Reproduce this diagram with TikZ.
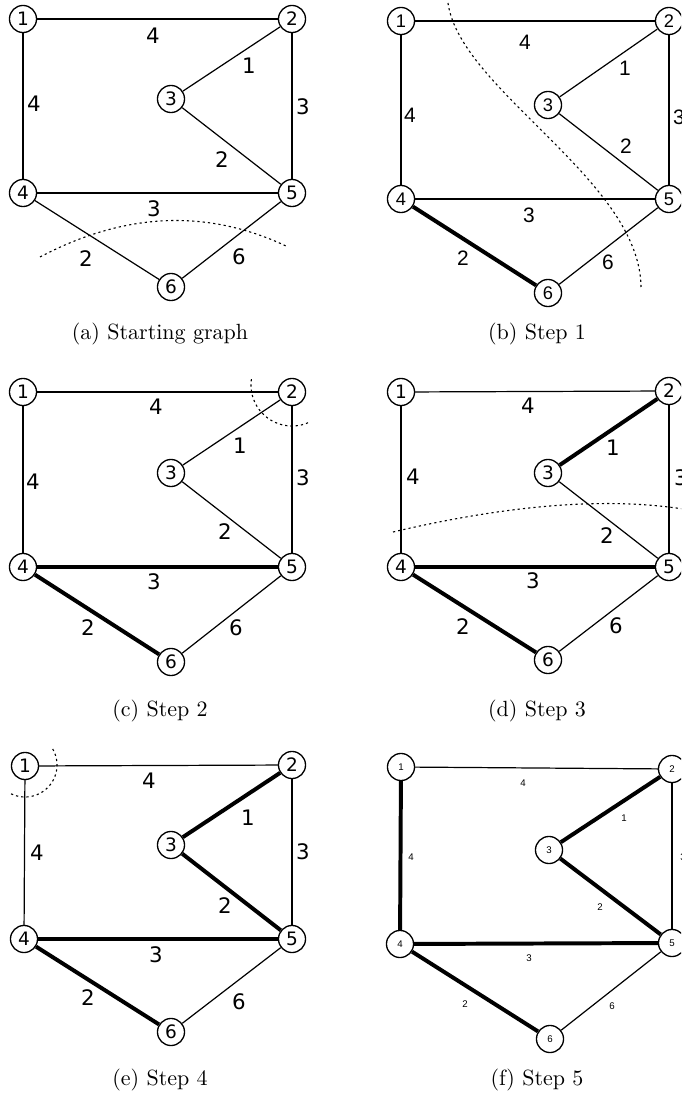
\documentclass[tikz,border=0pt]{standalone}
\usepackage{fontspec}
\newfontfamily\dvs{DejaVu Sans}
\newfontfamily\lib{Liberation Sans}
\tikzset{
  vtx/.style={circle, draw, line width=0.6pt, minimum size=12.3pt, inner sep=0pt, fill=white, font=\dvs\fontsize{8.4}{10}\selectfont},
  vtxb/.style={vtx, font=\lib\fontsize{8.3}{10}\selectfont},
  vtxf/.style={vtx, font=\lib\fontsize{4.4}{5}\selectfont},
  edge/.style={line width=0.55pt},
  tree/.style={line width=1.8pt},
  lbl/.style={inner sep=0pt, font=\dvs\fontsize{9.7}{11}\selectfont},
  lblb/.style={inner sep=0pt, font=\lib\fontsize{9.5}{11}\selectfont},
  lblf/.style={inner sep=0pt, font=\lib\fontsize{4.4}{5}\selectfont},
  cut/.style={dash pattern=on 1pt off 1.4pt, line width=0.5pt},
  captxt/.style={anchor=base, inner sep=0pt, font=\rmfamily\fontsize{10}{12}\selectfont}
}
\begin{document}
\begin{tikzpicture}[x=0.4545pt, y=-0.4545pt]
\useasboundingbox (0,0) rectangle (681,1094);
\clip (0,0) rectangle (681,1094);

% ---------- (a) ----------
\node[vtx] (a1) at (23,19) {1};
\node[vtx] (a2) at (292,19) {2};
\node[vtx] (a3) at (171,99) {3};
\node[vtx] (a4) at (23,193) {4};
\node[vtx] (a5) at (292,193) {5};
\node[vtx] (a6) at (171,287) {6};
\draw[edge] (a1) -- (a2);
\draw[edge] (a1) -- (a4);
\draw[edge] (a2) -- (a3);
\draw[edge] (a2) -- (a5);
\draw[edge] (a3) -- (a5);
\draw[edge] (a4) -- (a5);
\draw[edge] (a4) -- (a6);
\draw[edge] (a5) -- (a6);
\node[lbl] (la12) at (153,36) {4};
\node[lbl] (la14) at (34,104) {4};
\node[lbl] (la23) at (249,66) {1};
\node[lbl] (la25) at (303,107) {3};
\node[lbl] (la35) at (222,160) {2};
\node[lbl] (la45) at (154,209) {3};
\node[lbl] (la46) at (86,259) {2};
\node[lbl] (la56) at (239,257) {6};
\draw[cut] (40,257) .. controls (124.7,212.3) and (206.7,208.7) .. (286,246);
\node[captxt] (capa) at (160,340) {(a) Starting graph};

% ---------- (b) ----------
\node[vtxb] (b1) at (401,21) {1};
\node[vtxb] (b2) at (669,21) {2};
\node[vtxb] (b3) at (548,105) {3};
\node[vtxb] (b4) at (401,199) {4};
\node[vtxb] (b5) at (669,199) {5};
\node[vtxb] (b6) at (548,293) {6};
\draw[edge] (b1) -- (b2);
\draw[edge] (b1) -- (b4);
\draw[edge] (b2) -- (b3);
\draw[edge] (b2) -- (b5);
\draw[edge] (b3) -- (b5);
\draw[edge] (b4) -- (b5);
\draw[tree] (b4) -- (b6);
\draw[edge] (b5) -- (b6);
\node[lblb] (lb12) at (525,42) {4};
\node[lblb] (lb14) at (410,115) {4};
\node[lblb] (lb23) at (625,68) {1};
\node[lblb] (lb25) at (679,117) {3};
\node[lblb] (lb35) at (626,146) {2};
\node[lblb] (lb45) at (529,215) {3};
\node[lblb] (lb46) at (463,258) {2};
\node[lblb] (lb56) at (608,262) {6};
\draw[cut] (448,3) .. controls (460,90) and (640,180) .. (641,287);
\node[captxt] (capb) at (537,340) {(b) Step 1};

% ---------- (c) ----------
\node[vtx] (c1) at (23,392) {1};
\node[vtx] (c2) at (292,392) {2};
\node[vtx] (c3) at (171,473) {3};
\node[vtx] (c4) at (23,567) {4};
\node[vtx] (c5) at (292,567) {5};
\node[vtx] (c6) at (171,662) {6};
\draw[edge] (c1) -- (c2);
\draw[edge] (c1) -- (c4);
\draw[edge] (c2) -- (c3);
\draw[edge] (c2) -- (c5);
\draw[edge] (c3) -- (c5);
\draw[tree] (c4) -- (c5);
\draw[tree] (c4) -- (c6);
\draw[edge] (c5) -- (c6);
\node[lbl] (lc12) at (156,407) {4};
\node[lbl] (lc14) at (33,482) {4};
\node[lbl] (lc23) at (240,446) {1};
\node[lbl] (lc25) at (303,478) {3};
\node[lbl] (lc35) at (225,532) {2};
\node[lbl] (lc45) at (154,582) {3};
\node[lbl] (lc46) at (88,628) {2};
\node[lbl] (lc56) at (236,628) {6};
\draw[cut] plot[domain=67:191, samples=60, smooth] ({292+41*cos(\x)},{385+41*sin(\x)});
\node[captxt] (capc) at (160,716) {(c) Step 2};

% ---------- (d) ----------
\node[vtx] (d1) at (401,392) {1};
\node[vtx] (d2) at (669,391) {2};
\node[vtx] (d3) at (548,473) {3};
\node[vtx] (d4) at (401,567) {4};
\node[vtx] (d5) at (669,567) {5};
\node[vtx] (d6) at (548,660) {6};
\draw[edge] (d1) -- (d2);
\draw[edge] (d1) -- (d4);
\draw[tree] (d2) -- (d3);
\draw[edge] (d2) -- (d5);
\draw[edge] (d3) -- (d5);
\draw[tree] (d4) -- (d5);
\draw[tree] (d4) -- (d6);
\draw[edge] (d5) -- (d6);
\node[lbl] (ld12) at (528,406) {4};
\node[lbl] (ld14) at (413,477) {4};
\node[lbl] (ld23) at (613,448) {1};
\node[lbl] (ld25) at (681,478) {3};
\node[lbl] (ld35) at (607,536) {2};
\node[lbl] (ld45) at (533,581) {3};
\node[lbl] (ld46) at (463,627) {2};
\node[lbl] (ld56) at (616,626) {6};
\draw[cut] (393,532) .. controls (517.7,502.7) and (620,496) .. (700,512);
\node[captxt] (capd) at (537,716) {(d) Step 3};

% ---------- (e) ----------
\node[vtx] (e1) at (25,766) {1};
\node[vtx] (e2) at (292,765) {2};
\node[vtx] (e3) at (171,845) {3};
\node[vtx] (e4) at (24,939) {4};
\node[vtx] (e5) at (292,939) {5};
\node[vtx] (e6) at (171,1032) {6};
\draw[edge] (e1) -- (e2);
\draw[edge] (e1) -- (e4);
\draw[tree] (e2) -- (e3);
\draw[edge] (e2) -- (e5);
\draw[tree] (e3) -- (e5);
\draw[tree] (e4) -- (e5);
\draw[tree] (e4) -- (e6);
\draw[edge] (e5) -- (e6);
\node[lbl] (le12) at (149,781) {4};
\node[lbl] (le14) at (37,853) {4};
\node[lbl] (le23) at (248,818) {1};
\node[lbl] (le25) at (303,852) {3};
\node[lbl] (le35) at (225,906) {2};
\node[lbl] (le45) at (156,955) {3};
\node[lbl] (le46) at (88,998) {2};
\node[lbl] (le56) at (239,1002) {6};
\draw[cut] plot[domain=-30:117, samples=60, smooth] ({25+32*cos(\x)},{765+32*sin(\x)});
\node[captxt] (cape) at (160,1085) {(e) Step 4};

% ---------- (f) ----------
\node[vtxf] (f1) at (401,767) {1};
\node[vtxf] (f2) at (672,769) {2};
\node[vtxf] (f3) at (549,850) {3};
\node[vtxf] (f4) at (400,944) {4};
\node[vtxf] (f5) at (672,943) {5};
\node[vtxf] (f6) at (550,1039) {6};
\draw[edge] (f1) -- (f2);
\draw[tree] (f1) -- (f4);
\draw[tree] (f2) -- (f3);
\draw[edge] (f2) -- (f5);
\draw[tree] (f3) -- (f5);
\draw[tree] (f4) -- (f5);
\draw[tree] (f4) -- (f6);
\draw[edge] (f5) -- (f6);
\node[lblf] (lf12) at (523,783) {4};
\node[lblf] (lf14) at (411,857) {4};
\node[lblf] (lf23) at (624,818) {1};
\node[lblf] (lf25) at (683,857) {3};
\node[lblf] (lf35) at (600,907) {2};
\node[lblf] (lf45) at (529,958) {3};
\node[lblf] (lf46) at (465,1004) {2};
\node[lblf] (lf56) at (612,1006) {6};
\node[captxt] (capf) at (537,1085) {(f) Step 5};
\end{tikzpicture}
\end{document}
